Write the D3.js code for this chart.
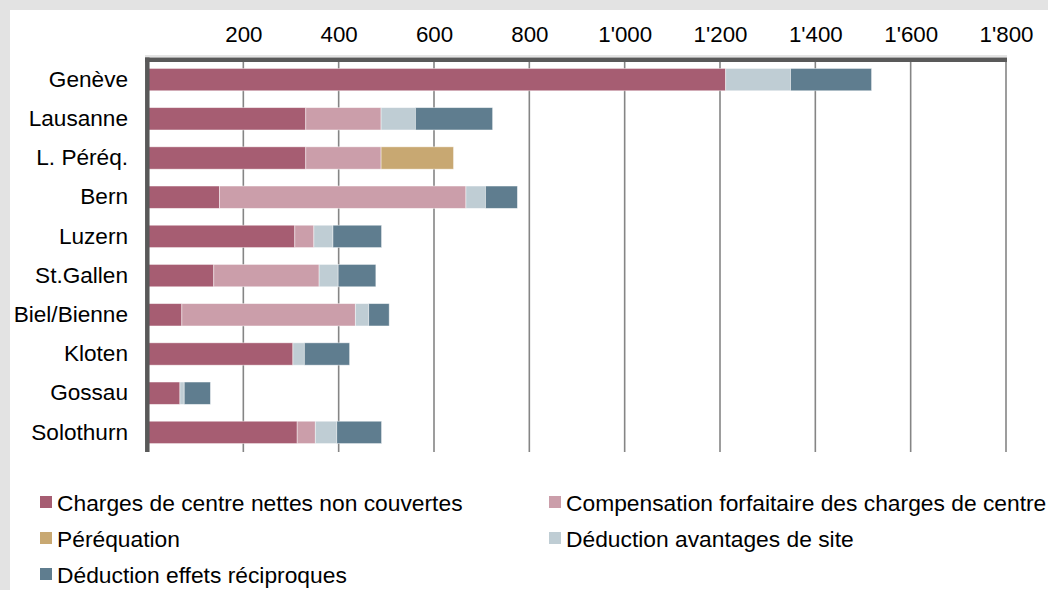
<!DOCTYPE html>
<html>
<head>
<meta charset="utf-8">
<script src="https://cdn.jsdelivr.net/npm/d3@7"></script>
<style>
  html, body { margin: 0; padding: 0; background: #e3e3e3; }
  svg { display: block; }
  text { font-family: "Liberation Sans", Arial, sans-serif; fill: #000; }
</style>
</head>
<body>
<svg id="chart" width="1048" height="590"></svg>
<script>
const categories = ["Genève", "Lausanne", "L. Péréq.", "Bern", "Luzern", "St.Gallen", "Biel/Bienne", "Kloten", "Gossau", "Solothurn"];
const charges      = [1212, 331, 331, 150, 308, 138,  71, 304, 67, 313];
const compensation = [   0, 158, 158, 517,  40, 221, 364,   0,  0,  38];
const perequation  = [   0,   0, 152,   0,   0,   0,   0,   0,  0,   0];
const avantages    = [ 136,  72,   0,  41,  40,  40,  28,  24,  9,  45];
const effets       = [ 170, 162,   0,  67, 102,  79,  43,  95, 55,  94];
const tickValues = [200, 400, 600, 800, 1000, 1200, 1400, 1600, 1800];
const seriesNames = ["Charges de centre nettes non couvertes", "Compensation forfaitaire des charges de centre", "Péréquation", "Déduction avantages de site", "Déduction effets réciproques"];
const seriesColors = ["#a65d72", "#cb9eaa", "#c8a872", "#bfcdd4", "#5f7d8f"];

(function () {
const keys = ["charges", "compensation", "perequation", "avantages", "effets"];
const rows = categories.map((c, i) => ({
  cat: c,
  charges: charges[i],
  compensation: compensation[i],
  perequation: perequation[i],
  avantages: avantages[i],
  effets: effets[i]
}));
const FONT = "'Liberation Sans', Arial, sans-serif";

const svg = d3.select("#chart");
svg.append("rect").attr("x", 10).attr("y", 10).attr("width", 1038).attr("height", 580).attr("fill", "#fff");

const plotTop = 60, plotBottom = 452, plotLeft = 148, plotRight = 1006;
const x = d3.scaleLinear().domain([0, 1800]).range([plotLeft, plotRight]);
const y = d3.scaleBand().domain(categories).range([plotTop, plotBottom]).paddingInner(0.43).paddingOuter(0.215);

const loc = d3.formatLocale({decimal: ".", thousands: "'", grouping: [3], currency: ["", ""]});
const fmt = loc.format(",");

// gridlines
svg.append("g").selectAll("line").data(tickValues).join("line")
  .attr("x1", d => x(d)).attr("x2", d => x(d))
  .attr("y1", plotTop).attr("y2", plotBottom)
  .attr("stroke", "#858585").attr("stroke-width", 1.6);

// bars
const stacked = d3.stack().keys(keys)(rows);
const color = d3.scaleOrdinal().domain(keys).range(seriesColors);
svg.append("g").selectAll("g").data(stacked).join("g")
  .attr("fill", d => color(d.key))
  .selectAll("rect").data(d => d.filter(s => s[1] - s[0] > 0)).join("rect")
  .attr("x", d => x(d[0]))
  .attr("width", d => x(d[1]) - x(d[0]))
  .attr("y", d => y(d.data.cat))
  .attr("height", y.bandwidth())
  .attr("stroke", "rgba(255,255,255,0.55)")
  .attr("stroke-width", 0.8);

// top axis labels
const xAxis = d3.axisTop(x).tickValues(tickValues).tickFormat(fmt).tickSize(0).tickPadding(18.5);
const gx = svg.append("g").attr("transform", `translate(0,${plotTop})`).call(xAxis);
gx.select(".domain").remove();
gx.attr("font-family", null).attr("font-size", null);
gx.selectAll("text").style("font-size", "22.3px").style("font-family", FONT).attr("fill", "#000");

// axis lines
svg.append("line").attr("x1", 145).attr("x2", plotRight + 1).attr("y1", 56).attr("y2", 56)
  .attr("stroke", "#c8c8c8").attr("stroke-width", 1);
svg.append("line").attr("x1", 145).attr("x2", plotRight + 1).attr("y1", 59.8).attr("y2", 59.8)
  .attr("stroke", "#595959").attr("stroke-width", 4.5);
svg.append("line").attr("x1", 147.3).attr("x2", 147.3).attr("y1", 57.5).attr("y2", plotBottom)
  .attr("stroke", "#595959").attr("stroke-width", 4.5);

// category labels
const yAxis = d3.axisLeft(y).tickSize(0).tickPadding(0);
const gy = svg.append("g").attr("transform", "translate(128,0)").call(yAxis);
gy.select(".domain").remove();
gy.attr("font-family", null).attr("font-size", null);
gy.selectAll("text").style("font-size", "22.6px").style("font-family", FONT).attr("fill", "#000");

// legend
const legendPos = [
  {sx: 40, ty: 503},
  {sx: 549, ty: 503},
  {sx: 40, ty: 539},
  {sx: 549, ty: 539},
  {sx: 40, ty: 575}
];
const lg = svg.append("g").selectAll("g").data(seriesNames).join("g")
  .attr("transform", (d, i) => `translate(${legendPos[i].sx},${legendPos[i].ty})`);
lg.append("rect").attr("x", 0).attr("y", -7).attr("width", 12).attr("height", 12)
  .attr("fill", (d, i) => seriesColors[i]);
lg.append("text").attr("x", 17).attr("y", 0).attr("dy", "0.35em")
  .style("font-size", "22.8px").style("font-family", FONT).text(d => d);
})();
</script>
</body>
</html>
